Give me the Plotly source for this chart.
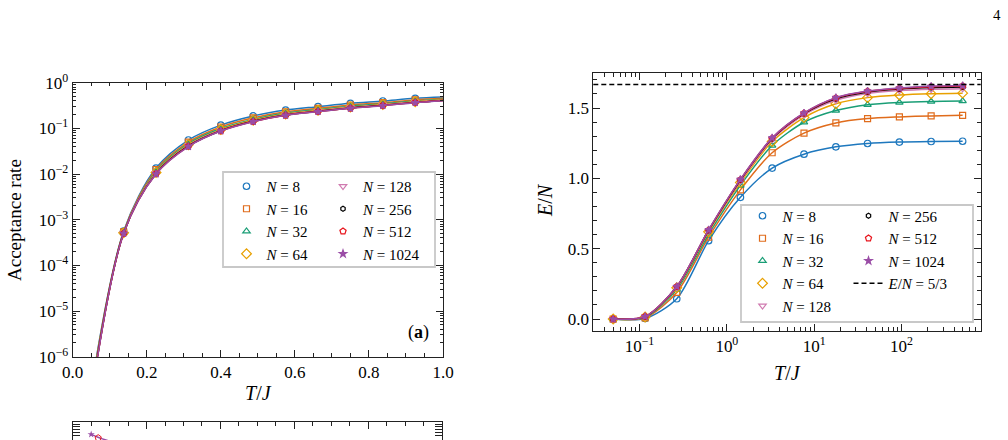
import math
import plotly.graph_objects as go

W, H = 1008, 440
FONT = "Liberation Serif, DejaVu Serif, serif"

# ---------------- data ----------------
N_VALUES = [8, 16, 32, 64, 128, 256, 512, 1024]
COLORS = ["#1e78be", "#e06c1c", "#1a9e76", "#e8a000", "#d07ab0", "#000000", "#e8141c", "#9a4da6"]
SYMBOLS = ["circle-open", "square-open", "triangle-up-open", "diamond-open",
           "triangle-down-open", "hexagon-open", "pentagon-open", "star"]
SIZES = [6.5, 6, 6.5, 7.5, 6.5, 5, 6.5, 5.5]

# panel (a): acceptance rate vs T/J
T_ACC = [0.05, 0.1375, 0.225, 0.3125, 0.4, 0.4875, 0.575, 0.6625, 0.75, 0.8375, 0.925, 1.0125]
ACC_N8 = [2.0e-7, 5.6e-4, 0.0135, 0.0556, 0.118, 0.187, 0.252, 0.299, 0.353, 0.397, 0.454, 0.49]
ACC_N16 = [1.8e-7, 5.4e-4, 0.0125, 0.0500, 0.107, 0.170, 0.231, 0.275, 0.325, 0.366, 0.420, 0.46]
ACC_N32 = [1.6e-7, 5.25e-4, 0.0114, 0.0462, 0.099, 0.157, 0.216, 0.258, 0.305, 0.344, 0.397, 0.44]
ACC_N64 = [1.5e-7, 5.15e-4, 0.0108, 0.0440, 0.094, 0.150, 0.206, 0.248, 0.293, 0.332, 0.384, 0.428]
ACC_N128 = [1.4e-7, 5.1e-4, 0.0105, 0.0425, 0.091, 0.146, 0.200, 0.241, 0.285, 0.325, 0.376, 0.42]
ACC_N256 = [1.35e-7, 5.05e-4, 0.0102, 0.0412, 0.089, 0.143, 0.196, 0.236, 0.280, 0.319, 0.370, 0.415]
ACC_N512 = [1.3e-7, 5.0e-4, 0.0101, 0.0405, 0.088, 0.141, 0.194, 0.234, 0.277, 0.316, 0.367, 0.412]
ACC_N1024 = [1.25e-7, 5.0e-4, 0.0100, 0.0400, 0.0875, 0.140, 0.193, 0.232, 0.275, 0.314, 0.365, 0.41]
ACC_SERIES = [ACC_N8, ACC_N16, ACC_N32, ACC_N64, ACC_N128, ACC_N256, ACC_N512, ACC_N1024]

# right panel: E/N vs T/J
T_EN = [0.05, 0.116, 0.267, 0.618, 1.43, 3.30, 7.64, 17.7, 40.8, 94.4, 218, 500]
EN_N8 = [0.0, 0.004, 0.144, 0.557, 0.865, 1.073, 1.172, 1.224, 1.248, 1.258, 1.262, 1.264]
EN_N16 = [0.0, 0.008, 0.189, 0.582, 0.918, 1.182, 1.322, 1.394, 1.425, 1.437, 1.444, 1.448]
EN_N32 = [0.0, 0.012, 0.210, 0.602, 0.950, 1.234, 1.399, 1.482, 1.524, 1.540, 1.547, 1.550]
EN_N64 = [0.0, 0.015, 0.222, 0.620, 0.970, 1.262, 1.432, 1.530, 1.574, 1.593, 1.602, 1.606]
EN_N128 = [0.0, 0.016, 0.226, 0.627, 0.981, 1.276, 1.452, 1.556, 1.604, 1.624, 1.634, 1.638]
EN_N256 = [0.0, 0.017, 0.229, 0.630, 0.988, 1.283, 1.460, 1.566, 1.614, 1.635, 1.646, 1.650]
EN_N512 = [0.0, 0.018, 0.230, 0.632, 0.991, 1.286, 1.463, 1.571, 1.619, 1.640, 1.652, 1.656]
EN_N1024 = [0.0, 0.018, 0.231, 0.634, 0.993, 1.288, 1.465, 1.574, 1.621, 1.643, 1.655, 1.660]
EN_SERIES = [EN_N8, EN_N16, EN_N32, EN_N64, EN_N128, EN_N256, EN_N512, EN_N1024]
EN_LIMIT = 5 / 3

# cut-off panel (b) at the bottom (only its top edge is visible)
B_T_N1024 = [0.05, 0.07, 0.10]
B_N1024 = [0.54, 0.46, 0.38]
B_T_N512 = [0.069]
B_N512 = [0.45]

LOG_TICKS_ACC = [1e-6, 1e-5, 1e-4, 1e-3, 1e-2, 1e-1, 1e0]
LOG_TICKS_T = [0.1, 1, 10, 100]


def sup_label(v):
    p = int(round(math.log10(v)))
    s = ("\u2212" + str(-p)) if p < 0 else str(p)
    return "10<sup>" + s + "</sup>"


def px(x):
    return x / W


def py(y):
    return 1 - y / H


fig = go.Figure()

# ---------------- traces ----------------
for i, n in enumerate(N_VALUES):
    c = COLORS[i]
    mk = dict(symbol=SYMBOLS[i], size=SIZES[i], color=c, line=dict(color=c, width=1.2))
    fig.add_trace(go.Scatter(x=T_ACC, y=ACC_SERIES[i], mode="lines", xaxis="x", yaxis="y",
                             line=dict(color=c, width=1.5, shape="spline", smoothing=0.9),
                             showlegend=False, hoverinfo="skip"))
    fig.add_trace(go.Scatter(x=T_ACC, y=ACC_SERIES[i], mode="markers", xaxis="x", yaxis="y",
                             marker=mk, name=f"<i>N</i> = {n}",
                             legend="legend" if i < 4 else "legend2"))

for i, n in enumerate(N_VALUES):
    c = COLORS[i]
    mk = dict(symbol=SYMBOLS[i], size=SIZES[i], color=c, line=dict(color=c, width=1.2))
    fig.add_trace(go.Scatter(x=T_EN, y=EN_SERIES[i], mode="lines", xaxis="x2", yaxis="y2",
                             line=dict(color=c, width=1.5, shape="spline", smoothing=0.8),
                             showlegend=False, hoverinfo="skip"))
    fig.add_trace(go.Scatter(x=T_EN, y=EN_SERIES[i], mode="markers", xaxis="x2", yaxis="y2",
                             marker=mk, name=f"<i>N</i> = {n}",
                             legend="legend3" if i < 5 else "legend4"))

fig.add_shape(type="line", xref="x2 domain", yref="y2", x0=0, x1=1, y0=EN_LIMIT, y1=EN_LIMIT,
              line=dict(color="black", width=1.5, dash="5px,3px"),
              showlegend=True, name="<i>E</i>/<i>N</i> = 5/3", legend="legend4", legendrank=2000)

# bottom partial panel
fig.add_trace(go.Scatter(x=B_T_N1024, y=B_N1024, mode="lines", xaxis="x3", yaxis="y3",
                         line=dict(color=COLORS[7], width=1.5, shape="spline"),
                         showlegend=False, hoverinfo="skip"))
fig.add_trace(go.Scatter(x=B_T_N512, y=B_N512, mode="markers", xaxis="x3", yaxis="y3",
                         marker=dict(symbol=SYMBOLS[6], size=6.5, color=COLORS[6]),
                         showlegend=False, hoverinfo="skip"))
fig.add_trace(go.Scatter(x=B_T_N1024[:1], y=B_N1024[:1], mode="markers", xaxis="x3", yaxis="y3",
                         marker=dict(symbol=SYMBOLS[7], size=5.5, color=COLORS[7]),
                         showlegend=False, hoverinfo="skip"))

# ---------------- axes ----------------
tickfont = dict(family=FONT, size=17, color="black")
common = dict(showline=True, linecolor="#222", linewidth=1, mirror="allticks", ticks="inside",
              ticklen=7, tickwidth=1, tickcolor="#222", showgrid=False, zeroline=False,
              tickfont=tickfont, automargin=False)
minor_lin = lambda d: dict(dtick=d, ticks="inside", ticklen=3.5, tickwidth=1, tickcolor="#222", showgrid=False)
minor_log = dict(dtick="D1", ticks="inside", ticklen=3.5, tickwidth=1, tickcolor="#222", showgrid=False)

fig.update_layout(
    xaxis=dict(domain=[px(72.7), px(443)], anchor="y", range=[0, 1], tick0=0, dtick=0.2,
               tickformat=".1f", minor=minor_lin(0.05), **common),
    yaxis=dict(domain=[py(356.7), py(82.7)], anchor="x", type="log", range=[-6, 0],
               tickmode="array", tickvals=LOG_TICKS_ACC,
               ticktext=[sup_label(v) for v in LOG_TICKS_ACC], minor=minor_log, **common),
    xaxis2=dict(domain=[px(593.3), px(980.7)], anchor="y2", type="log",
                range=[math.log10(0.0296), math.log10(805)],
                tickmode="array", tickvals=LOG_TICKS_T,
                ticktext=[sup_label(v) for v in LOG_TICKS_T], minor=minor_log, **common),
    yaxis2=dict(domain=[py(330.7), py(73.3)], anchor="x2", range=[-0.083, 1.747], tick0=0,
                dtick=0.5, tickformat=".1f", minor=minor_lin(0.1), **common),
    xaxis3=dict(domain=[px(72.7), px(442)], anchor="y3", range=[0, 1], tick0=0, dtick=0.2,
                side="top", showline=True, linecolor="#222", linewidth=1, mirror=False,
                ticks="inside", ticklen=7, tickcolor="#222", showticklabels=False,
                minor=minor_lin(0.05), showgrid=False, zeroline=False, automargin=False),
    yaxis3=dict(domain=[0, py(422.3)], anchor="x3", type="log", range=[-0.394, 0],
                showline=True, linecolor="#222", linewidth=1, mirror="allticks", ticks="inside",
                ticklen=7, tickcolor="#222", showticklabels=False, minor=minor_log,
                showgrid=False, zeroline=False, automargin=False),
)

# ---------------- legends ----------------
leg_common = dict(xanchor="left", yanchor="top", bgcolor="rgba(0,0,0,0)", borderwidth=0,
                  font=dict(family=FONT, size=15, color="black"), tracegroupgap=0,
                  orientation="v")
fig.update_layout(
    legend=dict(x=px(226.5), y=py(170), **leg_common),
    legend2=dict(x=px(323), y=py(170), **leg_common),
    legend3=dict(x=px(742.5), y=py(199.5), **leg_common),
    legend4=dict(x=px(848.5), y=py(199.5), **leg_common),
)

# legend frames
for (x0, y0, x1, y1) in [(223, 172, 435, 267), (741, 205, 973, 322)]:
    fig.add_shape(type="rect", xref="paper", yref="paper", x0=px(x0), x1=px(x1),
                  y0=py(y1), y1=py(y0), layer="above",
                  line=dict(color="#c8c8c8", width=1.8), fillcolor="rgba(255,255,255,0.8)")

# ---------------- text ----------------
def ann(text, x, y, size, angle=0):
    fig.add_annotation(text=text, x=px(x), y=py(y), xref="paper", yref="paper",
                       showarrow=False, textangle=angle, xanchor="center", yanchor="middle",
                       font=dict(family=FONT, size=size, color="black"))

ann("Acceptance rate", 14, 220, 19, -90)
ann("<i>T</i>/<i>J</i>", 258, 393, 20)
ann("<i>T</i>/<i>J</i>", 787, 373, 20)
ann("<i>E</i>/<i>N</i>", 545, 200, 20, -90)
ann("(<b>a</b>)", 418, 332, 18)
ann("4", 997, 14.5, 15)

fig.update_layout(width=W, height=H, autosize=False, template="none",
                  margin=dict(l=0, r=0, t=0, b=0),
                  paper_bgcolor="white", plot_bgcolor="white",
                  font=dict(family=FONT, color="black"), showlegend=True)

fig.write_html("out.html")
